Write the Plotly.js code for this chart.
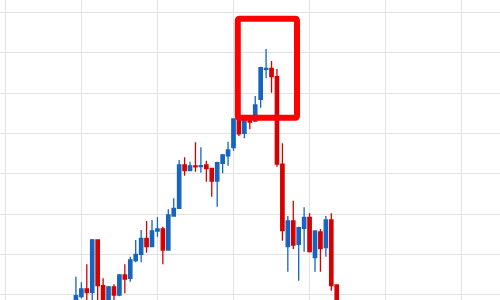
<!DOCTYPE html>
<html>
<head>
<meta charset="utf-8">
<script src="https://cdn.plot.ly/plotly-3.0.1.min.js"></script>
<style>html,body{margin:0;padding:0;background:#fff;}#chart{width:500px;height:300px;}</style>
</head>
<body>
<div id="chart"></div>
<script>
// OHLC values (arbitrary price units)
const open  = [97.8, 99.50, 101.41, 100.60, 113.58, 102.23, 97.5, 101.91, 99.93, 104.89, 104.07, 108.44, 110.03, 114.00, 111.91, 115.81, 116.31, 111.09, 119.53, 121.44, 132.19, 130.78, 131.94, 131.77, 132.19, 131.37, 128.22, 132.61, 134.43, 136.49, 143.61, 140.06, 143.61, 143.11, 148.50, 155.95, 156.19, 154.11, 132.37, 111.91, 118.29, 112.51, 116.48, 119.21, 109.18, 115.56, 111.67, 118.54, 102.41];
const high  = [104.47, 103.08, 107.55, 113.82, 113.70, 104.07, 102.16, 102.58, 105.14, 107.55, 109.43, 113.58, 116.06, 118.29, 118.54, 119.21, 116.88, 121.20, 123.93, 133.43, 134.10, 133.01, 137.83, 136.59, 133.26, 131.52, 133.01, 134.92, 137.98, 143.78, 144.35, 144.60, 144.35, 149.32, 156.59, 160.98, 158.00, 156.02, 137.58, 119.53, 123.33, 116.88, 121.69, 120.20, 115.90, 116.31, 119.53, 120.20, 102.50];
const low   = [97.2, 99.11, 98.5, 98.3, 98.2, 97.0, 97.0, 98.3, 99.6, 100.35, 103.23, 108.04, 108.04, 110.42, 111.80, 114.40, 107.55, 110.90, 119.40, 121.30, 129.54, 130.70, 130.53, 130.28, 128.05, 124.32, 121.84, 130.13, 132.02, 135.74, 139.39, 138.82, 141.05, 142.86, 146.41, 153.71, 150.14, 131.77, 113.40, 105.71, 111.34, 103.47, 110.67, 110.50, 105.71, 105.71, 109.43, 100.99, 96.0];
const close = [99.75, 101.41, 100.50, 113.58, 102.23, 97.6, 101.91, 99.93, 104.89, 103.90, 108.61, 110.03, 114.00, 111.91, 115.81, 116.31, 111.09, 119.78, 121.44, 132.19, 130.78, 131.94, 131.70, 132.02, 131.27, 128.22, 132.76, 134.67, 135.92, 143.61, 139.89, 143.36, 142.86, 147.08, 156.34, 156.19, 154.11, 132.44, 115.88, 118.29, 112.34, 116.63, 119.21, 110.67, 115.81, 111.47, 118.54, 102.23, 96.5];
const idx = open.map((_, i) => i);

// highlight box around the peak (data coordinates)
const boxX = [29.79, 40.69];
const boxY = [143.91, 168.5];

const trace = {
  type: 'candlestick',
  x: idx, open: open, high: high, low: low, close: close,
  increasing: {line: {color: '#1565c0', width: 1.3}, fillcolor: '#1565c0'},
  decreasing: {line: {color: '#d50000', width: 1.3}, fillcolor: '#d50000'},
  whiskerwidth: 0,
  hoverinfo: 'none',
  showlegend: false
};

// rounded-corner rectangle path
const dx = 0.37, dy = 0.5;
const [x0, x1] = boxX, [y0, y1] = boxY;
const boxPath =
  `M ${x0+dx},${y0} L ${x1-dx},${y0} Q ${x1},${y0} ${x1},${y0+dy} ` +
  `L ${x1},${y1-dy} Q ${x1},${y1} ${x1-dx},${y1} ` +
  `L ${x0+dx},${y1} Q ${x0},${y1} ${x0},${y1-dy} ` +
  `L ${x0},${y0+dy} Q ${x0},${y0} ${x0+dx},${y0} Z`;

const layout = {
  width: 500, height: 300,
  margin: {l: 0, r: 0, t: 0, b: 0, pad: 0},
  paper_bgcolor: '#ffffff', plot_bgcolor: '#ffffff',
  showlegend: false,
  boxgap: 0.12,
  xaxis: {
    range: [-13.975, 78.05], tick0: 1, dtick: 14, tickmode: 'linear',
    showticklabels: false, ticks: '', showgrid: true, gridcolor: '#e2e2e2', gridwidth: 1,
    zeroline: false, showline: false, rangeslider: {visible: false}, fixedrange: true
  },
  yaxis: {
    range: [98.685, 173.14], tick0: 100, dtick: 10, tickmode: 'linear',
    showticklabels: false, ticks: '', showgrid: true, gridcolor: '#e2e2e2', gridwidth: 1,
    zeroline: false, showline: false, fixedrange: true
  },
  shapes: [{
    type: 'path', xref: 'x', yref: 'y', layer: 'above',
    path: boxPath,
    line: {color: '#ff0000', width: 6}, fillcolor: 'rgba(0,0,0,0)'
  }]
};

Plotly.newPlot('chart', [trace], layout, {staticPlot: true, displayModeBar: false});
</script>
</body>
</html>
